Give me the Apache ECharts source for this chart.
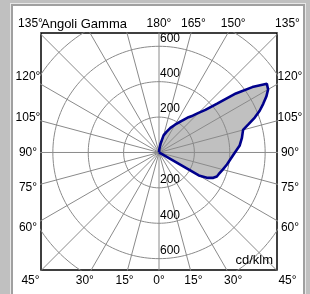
<!DOCTYPE html>
<html>
<head>
<meta charset="utf-8">
<script src="https://cdn.jsdelivr.net/npm/echarts@6/dist/echarts.min.js"></script>
<style>
html, body { margin: 0; padding: 0; background: #c0c0c0; }
.edge { position: absolute; }
#chart { position: absolute; left: 0; top: 0; width: 310px; height: 294px; }
</style>
</head>
<body>
<div class="edge" style="left:10px;top:3px;width:296px;height:291px;background:#e8e8e8"></div>
<div class="edge" style="left:11px;top:4px;width:294px;height:290px;background:#a0a0a0"></div>
<div class="edge" style="left:13px;top:6px;width:290px;height:288px;background:#fff"></div>
<div id="chart"></div>
<script>
// gamma angle (deg, 0 = down, 180 = up) and luminous intensity (cd/klm)
let gammaAngles = [0, 55, 57.5, 60, 62.5, 65, 67.5, 70, 75, 80, 85, 90, 95, 100, 105, 107.5, 110, 112.5, 115, 117.5,
  120, 122.5, 125, 127.5, 130, 132.5, 135, 137.5, 140, 145, 150, 155, 160, 165, 170, 175, 180];
let intensity = [0, 0, 0, 260, 311, 339, 354, 359, 373, 390, 407, 429, 458, 476, 492, 531, 576, 616, 650, 684,
  712, 723, 644, 548, 429, 356, 316, 282, 260, 215, 181, 153, 124, 100, 50, 15, 0];

let ringValues = [200, 400, 600, 800];
let ringLabels = [200, 400, 600];
let spokeAngles = [0, 15, 30, 45, 60, 75, 90, 105, 120, 135, 150, 165];

let leftTicks = [135, 120, 105, 90, 75, 60, 45];
let rightTicks = [135, 120, 105, 90, 75, 60, 45];
let topTicks = [180, 165, 150];
let bottomTicks = [0, 15, 30];
let titleText = 'Angoli Gamma';
let unitText = 'cd/klm';

const rad = Math.PI / 180;
let curvePoints = gammaAngles.map((g, i) => [intensity[i] * Math.sin(g * rad), -intensity[i] * Math.cos(g * rad)]);

let chart = echarts.init(document.getElementById('chart'));

let series = [];
series.push({
  type: 'custom',
  coordinateSystem: 'cartesian2d',
  clip: true,
  silent: true,
  z: 1,
  data: [[0, 0]],
  renderItem: function (params, api) {
    return {
      type: 'polygon',
      shape: { points: curvePoints.map(p => api.coord(p)) },
      style: { fill: '#c0c0c0' }
    };
  }
});
spokeAngles.forEach(a => {
  let s = Math.sin(a * rad), c = Math.cos(a * rad);
  series.push({
    type: 'line', silent: true, symbol: 'none', z: 2,
    lineStyle: { color: '#8a8a8a', width: 1 },
    data: [[-1200 * s, 1200 * c], [1200 * s, -1200 * c]]
  });
});
ringValues.forEach(r => {
  let pts = [];
  for (let d = 0; d <= 360; d += 2) pts.push([r * Math.cos(d * rad), r * Math.sin(d * rad)]);
  series.push({
    type: 'line', silent: true, symbol: 'none', z: 2,
    lineStyle: { color: '#8a8a8a', width: 1 },
    data: pts
  });
});
series.push({
  type: 'line', silent: true, symbol: 'none', z: 4,
  lineStyle: { color: '#00008c', width: 2.6 },
  data: curvePoints
});

chart.setOption({
  animation: false,
  grid: { left: 41, top: 33, width: 236, height: 237, show: true, borderColor: '#000', borderWidth: 1.5 },
  xAxis: { type: 'value', min: -667, max: 667, show: false },
  yAxis: { type: 'value', min: -664, max: 675, show: false },
  series: series
});

// labels placed from the grid's own scale
function px(x, y) { return chart.convertToPixel({ gridIndex: 0 }, [x, y]); }
let c = px(0, 0);
let boxTL = px(-667, 675), boxBR = px(667, -664);
let Hx = 131, Hy = 128.5;
let font = '12px "Liberation Sans", Arial, sans-serif';
let texts = [];

function angleLabel(g, side) {
  let dx = side * Math.sin(g * rad), dy = Math.cos(g * rad);
  let t = Math.min(Math.abs(dx) > 1e-6 ? Hx / Math.abs(dx) : 1e9, Math.abs(dy) > 1e-6 ? Hy / Math.abs(dy) : 1e9);
  texts.push({
    type: 'text', x: c[0] + t * dx, y: c[1] + t * dy, z: 10,
    style: { text: g + '°', font: font, fill: '#000', textAlign: 'center', textVerticalAlign: 'middle' }
  });
}
leftTicks.forEach(g => angleLabel(g, -1));
rightTicks.forEach(g => angleLabel(g, 1));
topTicks.forEach(g => angleLabel(g, 1));
bottomTicks.forEach(g => { angleLabel(g, 1); if (g > 0) angleLabel(g, -1); });

texts.push({
  type: 'text', x: boxTL[0], y: c[1] - Hy, z: 10,
  style: { text: titleText, font: '13px "Liberation Sans", Arial, sans-serif', fill: '#000', textAlign: 'left', textVerticalAlign: 'middle' }
});
texts.push({
  type: 'text', x: boxBR[0] - 4, y: boxBR[1] - 3, z: 10,
  style: { text: unitText, font: '13px "Liberation Sans", Arial, sans-serif', fill: '#000', textAlign: 'right', textVerticalAlign: 'bottom' }
});
ringLabels.forEach(v => {
  [v, -v].forEach(y => {
    let p = px(0, y);
    texts.push({
      type: 'text', x: p[0] + 1, y: p[1] - 2, z: 10,
      style: { text: String(v), font: font, fill: '#000', textAlign: 'left', textVerticalAlign: 'bottom' }
    });
  });
});
// hide what pokes above the frame top
texts.push({
  type: 'rect', z: 11,
  shape: { x: c[0] - 3, y: boxTL[1] - 5, width: 30, height: 4 },
  style: { fill: '#fff' }
});

chart.setOption({ graphic: texts });
</script>
</body>
</html>
